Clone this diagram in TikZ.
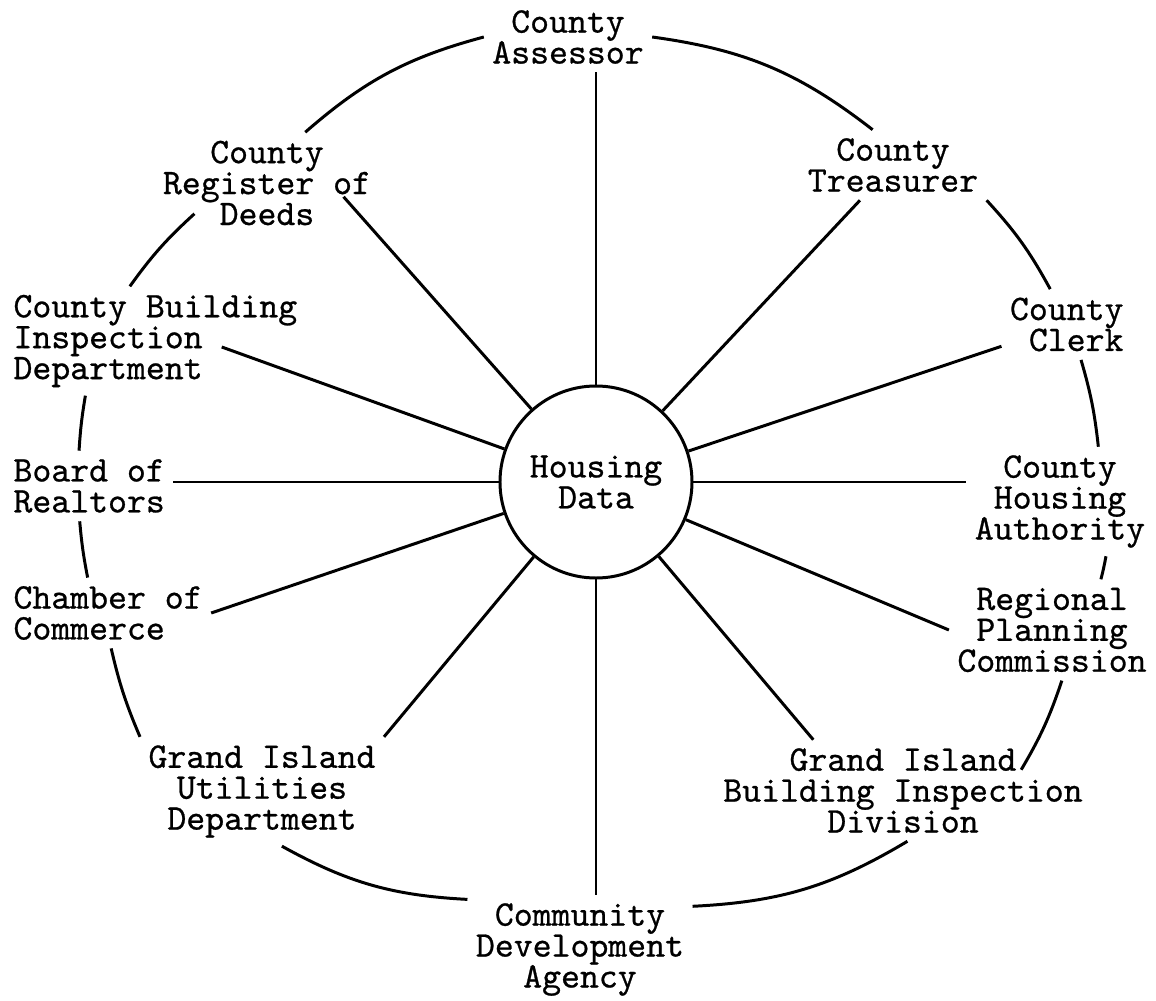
\documentclass[tikz,border=0pt]{standalone}
\usepackage{fontspec}
\newfontfamily\typer[FakeBold=0.7]{lmmono10-regular.otf}
\usepackage{tikz}
\usetikzlibrary{positioning}

\begin{document}
\begin{tikzpicture}[line width=1.7pt,
    agency/.style={align=center,inner sep=4pt,font=\fontsize{20.5}{17.6}\selectfont\typer},
    hub/.style={circle,draw,align=center,minimum size=3.84cm,inner sep=0pt,font=\fontsize{20.5}{17.6}\selectfont\typer}]
            \useasboundingbox (-11.92,-10.36) rectangle (11.2,9.64);
            \node[hub] (hd) at (0,0) {Housing\\Data};
            \node[agency] (assessor) at (-0.56,8.90) {County\\Assessor};
            \node[agency] (treasurer) at (5.94,6.34) {County\\Treasurer};
            \node[agency,align=right,anchor=east] (clerk) at (10.72,3.15) {County\\Clerk};
            \node[agency] (authority) at (9.28,-0.39) {County\\Housing\\Authority};
            \node[agency] (regional) at (9.12,-2.96) {Regional\\Planning\\Commission};
            \node[agency] (gibid) at (6.14,-6.17) {Grand Island\\Building Inspection\\Division};
            \node[agency] (cda) at (-0.32,-9.35) {Community\\Development\\Agency};
            \node[agency] (utilities) at (-6.68,-6.19) {Grand Island\\Utilities\\Department};
            \node[agency,align=left,anchor=west] (chamber) at (-11.82,-2.62) {Chamber of\\Commerce};
            \node[agency,align=left,anchor=west] (realtors) at (-11.82,-0.08) {Board of\\Realtors};
            \node[agency,align=left,anchor=west] (building) at (-11.82,2.82) {County Building\\Inspection\\Department};
            \node[agency] (register) at (-6.58,5.98) {County\\Register of\\Deeds};

            \draw (hd) -- (hd |- assessor.south);
            \draw (hd) -- (treasurer);
            \draw (hd) -- (clerk);
            \draw (hd) -- (hd -| authority.west);
            \draw (hd) -- (regional.west);
            \draw (hd) -- ([xshift=1.97cm]gibid.north west);
            \draw (hd) -- (hd |- cda.north);
            \draw (hd) -- (utilities.north east);
            \draw (hd) -- (chamber.east);
            \draw (hd) -- (hd -| realtors.east);
            \draw (hd) -- ([xshift=-1.68cm,yshift=-0.12cm]building.east);
            \draw (hd) -- ([xshift=-0.72cm,yshift=0.74cm]register.south east);

            \draw (register.53) to[bend left=13] (assessor.west);
            \draw (assessor.east) to[bend left=15] (treasurer.120);
            \draw (treasurer.south east) to[bend left=7] (clerk.115);
            \draw (clerk.-68) to[bend left=5] (authority.55);
            \draw (authority.-50) to[bend left=2] (regional.46);
            \draw (regional.-79) to[bend left=6] ([xshift=-1.4cm,yshift=-0.6cm]gibid.north east);
            \draw (gibid.-85) to[bend left=14] (cda.21);
            \draw (cda.156) to[bend left=13] (utilities.-70);
            \draw (utilities.north west) to[bend left=5] (chamber.-85);
            \draw (chamber.120) to[bend left=3] (realtors.-105);
            \draw (realtors.106) to[bend left=3] (building.-142);
            \draw (building.115) to[bend left=6] ([xshift=0.8cm,yshift=0.4cm]register.south west);
        \end{tikzpicture}
\end{document}
